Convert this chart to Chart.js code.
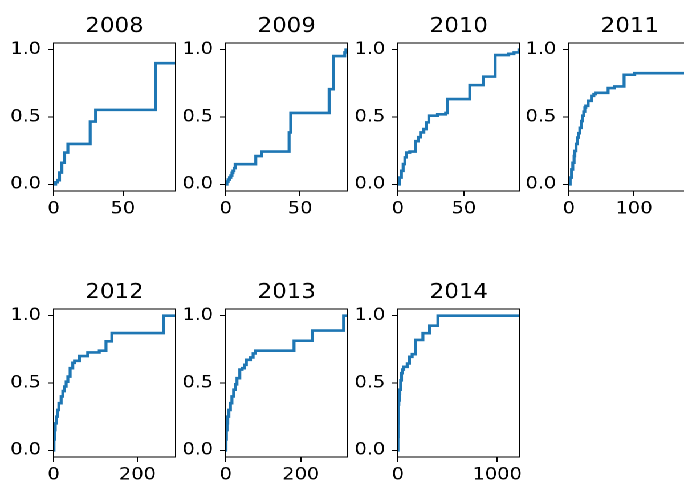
<!DOCTYPE html>
<html>
<head>
<meta charset="utf-8">
<script src="https://cdn.jsdelivr.net/npm/chart.js@4"></script>
<style>
  html, body { margin: 0; padding: 0; background: #fff; overflow: hidden; }
  #page { position: relative; width: 684px; height: 489px; overflow: hidden; background: #fff; }
  /* the figure is laid out 600px wide and widened to the page width */
  #fig { position: absolute; left: 0; top: 0; width: 600px; height: 489px;
         transform: scaleX(1.14); transform-origin: 0 0; }
  #fig canvas { position: absolute; }
</style>
</head>
<body>
<div id="page"><div id="fig"></div></div>
<script>
// Yearly cumulative curves: x = days, y = cumulative fraction (value holds until the next x)
const years = ['2008', '2009', '2010', '2011', '2012', '2013', '2014'];

const x2008 = [0, 1.5, 3, 4.3, 6, 8, 10.3, 26.4, 30.3, 73.6, 88];
const y2008 = [0, 0.015, 0.03, 0.087, 0.16, 0.236, 0.30, 0.466, 0.553, 0.90, 0.90];

const x2009 = [0, 0.8, 1.6, 2.5, 3.4, 4.2, 4.9, 5.6, 6.3, 20.2, 24, 42.6, 43.7, 69.5, 72.4, 80, 80.8, 82];
const y2009 = [0, 0.02, 0.035, 0.05, 0.065, 0.085, 0.10, 0.12, 0.149, 0.21, 0.243, 0.385, 0.53, 0.707, 0.953, 0.98, 1.0, 1.0];

const x2010 = [0, 1.2, 2.7, 4, 5.3, 6.5, 9, 13.4, 15.4, 17.2, 19.7, 21.7, 23.5, 30, 36.2, 37.4, 54.5, 64.6, 73.7, 84, 88, 91.7, 92.4];
const y2010 = [0, 0.05, 0.10, 0.15, 0.20, 0.236, 0.243, 0.32, 0.35, 0.385, 0.41, 0.46, 0.51, 0.52, 0.53, 0.633, 0.737, 0.80, 0.96, 0.97, 0.98, 1.0, 1.0];

const x2011 = [0, 2, 4.1, 6, 8, 9.2, 11, 13.3, 15, 16.8, 19, 20.9, 22.8, 24.5, 26, 29.6, 34.7, 38.3, 40.8, 60.2, 70, 84.7, 101, 187];
const y2011 = [0, 0.05, 0.11, 0.16, 0.21, 0.248, 0.30, 0.347, 0.38, 0.42, 0.47, 0.51, 0.54, 0.57, 0.583, 0.62, 0.657, 0.67, 0.68, 0.715, 0.727, 0.814, 0.826, 0.826];

const x2012 = [0, 1, 2.4, 4, 6.3, 9, 12.6, 18, 22, 26, 30, 34, 39.5, 45.8, 50, 61.7, 81.4, 109, 125, 139, 263, 291];
const y2012 = [0, 0.08, 0.15, 0.20, 0.25, 0.30, 0.35, 0.40, 0.44, 0.474, 0.51, 0.548, 0.61, 0.65, 0.665, 0.70, 0.727, 0.74, 0.81, 0.871, 1.0, 1.0];

const x2013 = [0, 0.8, 1.8, 3.5, 5.4, 8.5, 12.5, 16.5, 21, 25.5, 30, 37.5, 43.8, 50, 55, 66, 73, 79.5, 182, 231, 314, 325];
const y2013 = [0, 0.08, 0.15, 0.20, 0.25, 0.30, 0.35, 0.40, 0.45, 0.49, 0.536, 0.60, 0.61, 0.635, 0.672, 0.69, 0.72, 0.74, 0.814, 0.89, 1.0, 1.0];

const x2014 = [0, 1, 2, 4, 7, 10, 15, 20, 28, 37, 48, 60, 94, 117, 144, 178, 252, 319, 403, 1228];
const y2014 = [0, 0.10, 0.20, 0.28, 0.34, 0.37, 0.42, 0.45, 0.52, 0.573, 0.60, 0.62, 0.645, 0.695, 0.714, 0.82, 0.87, 0.926, 1.0, 1.0];

const xSeries = [x2008, x2009, x2010, x2011, x2012, x2013, x2014];
const ySeries = [y2008, y2009, y2010, y2011, y2012, y2013, y2014];

// x-axis upper limits and tick labels per year
const xMax = [88, 82, 92.4, 187, 291, 325, 1228];
const xTicks = [[0, 50], [0, 50], [0, 50], [0, 100], [0, 200], [0, 200], [0, 1000]];
const yTicks = [0, 0.5, 1.0];

// grid geometry (figure coordinates before widening)
const COL_LEFT = [47.4, 198, 348.6, 499.2];
const ROW_TOP = [43, 309];
const PLOT_W = 107, PLOT_H = 148;
const AXIS_W = 47, TITLE_H = 40, XAXIS_H = 35, RIGHT_PAD = 14;
const FONT = 'DejaVu Sans';

// black frame around each plot area
const framePlugin = {
  id: 'frame',
  afterDraw(chart) {
    const { ctx, chartArea: a } = chart;
    ctx.save();
    ctx.strokeStyle = '#000';
    ctx.lineWidth = 1;
    ctx.strokeRect(a.left, a.top, a.right - a.left, a.bottom - a.top);
    ctx.restore();
  }
};

const fig = document.getElementById('fig');

years.forEach((year, i) => {
  const col = i % 4, row = Math.floor(i / 4);
  const canvas = document.createElement('canvas');
  canvas.width = AXIS_W + PLOT_W + RIGHT_PAD;
  canvas.height = TITLE_H + PLOT_H + XAXIS_H;
  canvas.style.left = (COL_LEFT[col] - AXIS_W) + 'px';
  canvas.style.top = (ROW_TOP[row] - TITLE_H) + 'px';
  fig.appendChild(canvas);

  const points = xSeries[i].map((x, k) => ({ x: x, y: ySeries[i][k] }));

  new Chart(canvas, {
    type: 'line',
    data: {
      datasets: [{
        data: points,
        stepped: 'before',
        borderColor: '#1f77b4',
        borderWidth: 2.6,
        pointRadius: 0,
        fill: false
      }]
    },
    options: {
      responsive: false,
      animation: false,
      devicePixelRatio: 2,
      layout: { padding: { left: 0, right: RIGHT_PAD, top: 0, bottom: 0 } },
      plugins: {
        legend: { display: false },
        tooltip: { enabled: false },
        title: {
          display: true,
          fullSize: false,   // span the plot area only, so the title sits centred over it
          text: year,
          color: '#000',
          font: { family: FONT, size: 20, weight: 'normal', lineHeight: 1.2 },
          padding: { top: 12, bottom: 4 }
        }
      },
      scales: {
        x: {
          type: 'linear',
          min: 0,
          max: xMax[i],
          afterBuildTicks: (s) => { s.ticks = xTicks[i].map(v => ({ value: v })); },
          afterFit: (s) => { s.height = XAXIS_H; },
          border: { display: false },
          grid: { display: true, drawOnChartArea: false, drawTicks: true, tickLength: 5, color: '#000', lineWidth: 1 },
          ticks: {
            color: '#000', padding: 3, maxRotation: 0, autoSkip: false,
            font: { family: FONT, size: 17 },
            callback: (v) => String(v)
          }
        },
        y: {
          type: 'linear',
          min: -0.05,
          max: 1.05,
          afterBuildTicks: (s) => { s.ticks = yTicks.map(v => ({ value: v })); },
          afterFit: (s) => { s.width = AXIS_W; },
          border: { display: false },
          grid: { display: true, drawOnChartArea: false, drawTicks: true, tickLength: 5, color: '#000', lineWidth: 1 },
          ticks: {
            color: '#000', padding: 6, autoSkip: false,
            font: { family: FONT, size: 17 },
            callback: (v) => Number(v).toFixed(1)
          }
        }
      }
    },
    plugins: [framePlugin]
  });
});
</script>
</body>
</html>
